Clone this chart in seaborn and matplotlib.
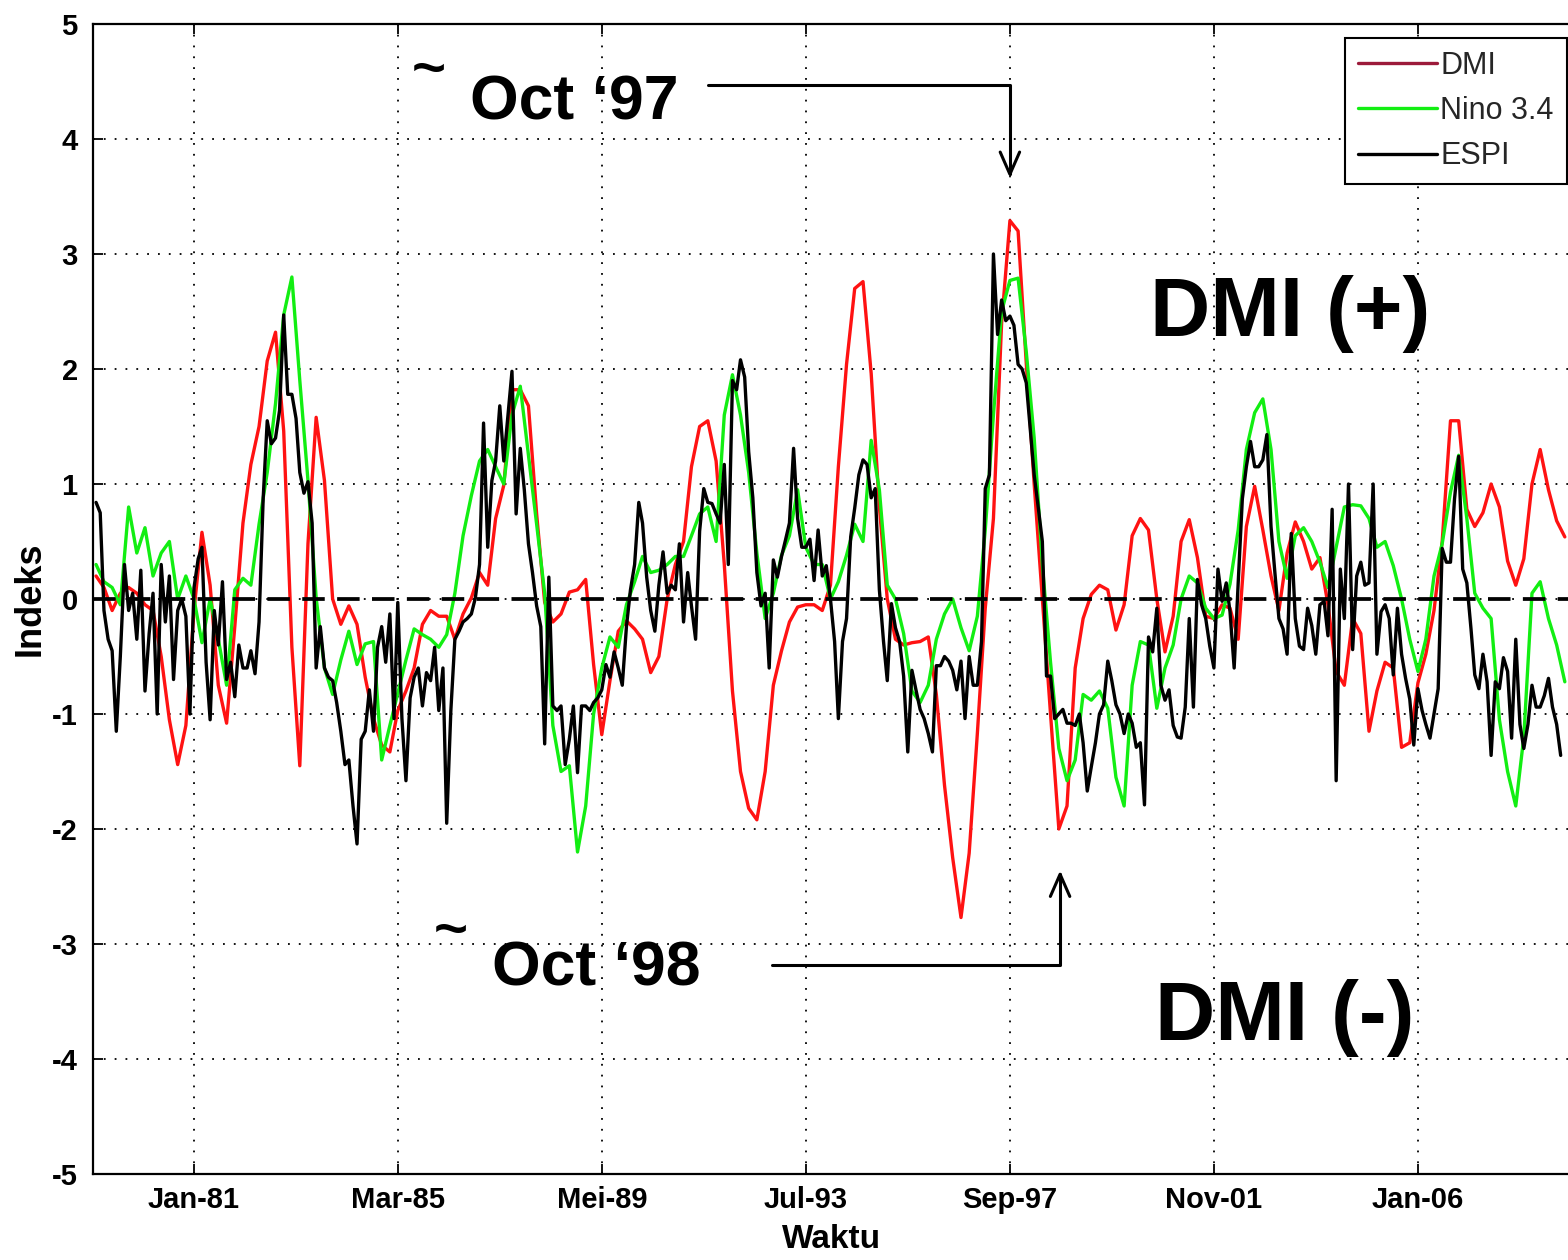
import matplotlib
matplotlib.use("Agg")
import matplotlib.pyplot as plt
import matplotlib.dates as mdates
from matplotlib.lines import Line2D
from matplotlib import font_manager
import pandas as pd
import seaborn as sns

W, H = 1568, 1260

# ---------------- data ----------------
# ESPI: monthly, Jan 1979 .. Dec 2008 (one row per year)
espi = [
    0.84, 0.75, -0.1, -0.35, -0.45, -1.15, -0.5, 0.3, -0.1, 0.05, -0.35, 0.25,
    -0.8, -0.3, 0.05, -1.0, 0.3, -0.2, 0.2, -0.7, -0.1, 0.0, -0.15, -1.0,
    0.1, 0.35, 0.45, -0.55, -1.05, -0.1, -0.4, 0.15, -0.7, -0.55, -0.85, -0.4,
    -0.6, -0.6, -0.45, -0.65, -0.2, 0.88, 1.55, 1.35, 1.4, 1.64, 2.47, 1.78,
    1.78, 1.57, 1.1, 0.92, 1.02, 0.66, -0.6, -0.24, -0.6, -0.68, -0.71, -0.9,
    -1.15, -1.44, -1.4, -1.8, -2.13, -1.22, -1.15, -0.79, -1.15, -0.42, -0.24, -0.55,
    -0.13, -1.04, -0.03, -1.04, -1.58, -0.86, -0.68, -0.6, -0.93, -0.64, -0.71, -0.42,
    -0.97, -0.6, -1.95, -0.97, -0.35, -0.28, -0.2, -0.17, -0.13, 0.01, 0.3, 1.53,
    0.45, 1.03, 1.2, 1.68, 1.2, 1.6, 1.98, 0.74, 1.31, 0.95, 0.48, 0.23,
    -0.06, -0.24, -1.26, 0.19, -0.93, -0.97, -0.93, -1.44, -1.22, -0.93, -1.51, -0.93,
    -0.93, -0.97, -0.9, -0.86, -0.79, -0.57, -0.68, -0.46, -0.6, -0.75, -0.24, 0.08,
    0.3, 0.84, 0.66, 0.19, -0.1, -0.28, 0.12, 0.41, 0.05, 0.12, 0.08, 0.48,
    -0.2, 0.23, -0.06, -0.35, 0.59, 0.96, 0.84, 0.83, 0.74, 0.66, 1.17, 0.3,
    1.9, 1.82, 2.08, 1.93, 1.28, 0.88, 0.23, -0.06, 0.05, -0.6, 0.34, 0.19,
    0.37, 0.52, 0.66, 1.31, 0.7, 0.45, 0.45, 0.52, 0.16, 0.6, 0.2, 0.29,
    0.0, -0.37, -1.04, -0.37, -0.17, 0.54, 0.79, 1.08, 1.21, 1.17, 0.88, 0.96,
    0.08, -0.37, -0.71, -0.04, -0.25, -0.37, -0.67, -1.33, -0.62, -0.79, -0.96, -1.04,
    -1.17, -1.33, -0.58, -0.58, -0.5, -0.54, -0.62, -0.79, -0.54, -1.04, -0.5, -0.75,
    -0.75, -0.37, 0.96, 1.08, 3.0, 2.3, 2.6, 2.42, 2.46, 2.38, 2.04, 2.0,
    1.88, 1.46, 1.08, 0.79, 0.5, -0.67, -0.67, -1.04, -1.0, -0.96, -1.08, -1.08,
    -1.1, -1.0, -1.25, -1.67, -1.46, -1.25, -1.0, -0.92, -0.54, -0.71, -0.92, -1.0,
    -1.17, -1.0, -1.08, -1.29, -1.25, -1.79, -0.33, -0.46, -0.08, -0.75, -0.88, -0.79,
    -1.1, -1.2, -1.21, -0.94, -0.17, -0.94, 0.17, -0.05, -0.17, -0.41, -0.6, 0.26,
    -0.02, 0.14, -0.11, -0.6, 0.14, 0.87, 1.15, 1.37, 1.15, 1.15, 1.21, 1.43,
    0.63, 0.2, -0.17, -0.26, -0.48, 0.57, -0.17, -0.41, -0.44, -0.08, -0.23, -0.48,
    -0.05, -0.02, -0.32, 0.78, -1.58, 0.26, -0.17, 1.0, -0.44, 0.2, 0.32, 0.12,
    0.14, 1.0, -0.48, -0.11, -0.05, -0.17, -0.66, -0.08, -0.48, -0.69, -0.87, -1.27,
    -0.78, -0.97, -1.09, -1.21, -1.0, -0.78, 0.44, 0.32, 0.32, 0.87, 1.24, 0.26,
    0.14, -0.26, -0.66, -0.78, -0.48, -0.72, -1.36, -0.72, -0.78, -0.51, -0.63, -1.21,
    -0.35, -1.09, -1.3, -1.09, -0.75, -0.94, -0.94, -0.84, -0.69, -0.94, -1.09, -1.36,
]

# DMI: every second month, Jan 1979 .. Jan 2009 (one row per two years)
dmi = [
    0.2, 0.1, -0.1, 0.05, 0.1, 0.05, -0.05, -0.1, -0.5, -1.05, -1.44, -1.1,
    -0.1, 0.58, 0.12, -0.75, -1.08, -0.24, 0.66, 1.17, 1.5, 2.07, 2.32, 1.46,
    -0.42, -1.45, 0.48, 1.58, 1.03, 0.0, -0.22, -0.06, -0.22, -0.68, -1.04, -1.27,
    -1.33, -0.97, -0.8, -0.6, -0.22, -0.1, -0.15, -0.15, -0.35, -0.13, 0.01, 0.23,
    0.12, 0.7, 0.99, 1.82, 1.82, 1.68, 0.74, -0.03, -0.2, -0.13, 0.06, 0.08,
    0.17, -0.57, -1.18, -0.71, -0.28, -0.19, -0.26, -0.35, -0.64, -0.5, 0.0, 0.3,
    0.5, 1.15, 1.5, 1.55, 1.2, 0.3, -0.8, -1.5, -1.82, -1.92, -1.5, -0.75,
    -0.45, -0.2, -0.07, -0.05, -0.05, -0.1, 0.12, 1.15, 2.04, 2.7, 2.76, 1.96,
    0.8, 0.0, -0.35, -0.4, -0.38, -0.37, -0.33, -0.83, -1.62, -2.25, -2.77, -2.21,
    -1.17, -0.08, 0.7, 2.4, 3.29, 3.2, 2.05, 1.0, 0.0, -1.0, -2.0, -1.8,
    -0.6, -0.17, 0.04, 0.12, 0.08, -0.27, -0.05, 0.55, 0.7, 0.6, 0.0, -0.46,
    -0.15, 0.5, 0.69, 0.36, -0.15, -0.17, -0.05, -0.08, -0.35, 0.63, 0.98, 0.6,
    0.2, -0.1, 0.4, 0.67, 0.5, 0.26, 0.36, -0.05, -0.63, -0.75, -0.17, -0.3,
    -1.15, -0.8, -0.55, -0.6, -1.29, -1.25, -0.73, -0.48, -0.1, 0.5, 1.55, 1.55,
    0.78, 0.63, 0.75, 1.0, 0.8, 0.33, 0.12, 0.35, 1.0, 1.3, 0.95, 0.68,
    0.54,
]

# Nino 3.4: every second month, Jan 1979 .. Jan 2009
nino34 = [
    0.3, 0.15, 0.1, -0.05, 0.8, 0.4, 0.62, 0.2, 0.4, 0.5, 0.0, 0.2,
    0.0, -0.38, 0.0, -0.35, -0.75, 0.08, 0.18, 0.12, 0.65, 1.1, 1.7, 2.47,
    2.8, 1.9, 1.03, 0.01, -0.6, -0.83, -0.53, -0.28, -0.57, -0.39, -0.37, -1.4,
    -1.1, -0.82, -0.53, -0.26, -0.31, -0.35, -0.42, -0.31, 0.05, 0.55, 0.9, 1.2,
    1.3, 1.15, 1.0, 1.6, 1.85, 1.25, 0.65, 0.05, -1.1, -1.5, -1.45, -2.2,
    -1.8, -1.0, -0.6, -0.33, -0.42, -0.05, 0.15, 0.37, 0.23, 0.25, 0.3, 0.37,
    0.37, 0.55, 0.74, 0.8, 0.5, 1.6, 1.95, 1.6, 1.1, 0.4, -0.17, 0.05,
    0.38, 0.55, 0.95, 0.45, 0.3, 0.3, 0.0, 0.15, 0.38, 0.65, 0.5, 1.38,
    0.95, 0.12, 0.0, -0.3, -0.8, -0.9, -0.75, -0.35, -0.13, 0.0, -0.25, -0.45,
    -0.15, 0.6, 1.6, 2.5, 2.77, 2.79, 2.15, 1.4, 0.3, -0.55, -1.3, -1.58,
    -1.4, -0.83, -0.88, -0.8, -0.95, -1.55, -1.8, -0.75, -0.37, -0.4, -0.95, -0.6,
    -0.4, 0.0, 0.2, 0.14, -0.08, -0.17, -0.14, 0.13, 0.6, 1.3, 1.62, 1.74,
    1.3, 0.5, 0.18, 0.55, 0.62, 0.5, 0.32, 0.1, 0.45, 0.8, 0.82, 0.81,
    0.7, 0.45, 0.5, 0.29, 0.0, -0.35, -0.63, -0.35, 0.2, 0.48, 0.93, 1.25,
    0.7, 0.05, -0.08, -0.17, -1.05, -1.5, -1.8, -1.2, 0.05, 0.15, -0.17, -0.4,
    -0.72,
]

series_names = ["DMI", "Nino 3.4", "ESPI"]
line_colors = ["#ff1212", "#12ee12", "#000000"]
legend_colors = ["#9c1a3a", "#12ee12", "#000000"]
tick_dates = ["1981-01-01", "1985-03-01", "1989-05-01", "1993-07-01",
              "1997-09-01", "2001-11-01", "2006-01-01"]
tick_labels = ["Jan-81", "Mar-85", "Mei-89", "Jul-93", "Sep-97", "Nov-01", "Jan-06"]
y_ticks = [-5, -4, -3, -2, -1, 0, 1, 2, 3, 4, 5]

# ---------------- table for seaborn ----------------
espi_dates = pd.date_range("1979-01-01", periods=len(espi), freq="MS")
idx_dates = pd.date_range("1979-01-01", periods=len(dmi), freq="2MS")
df = pd.concat([
    pd.DataFrame({"Waktu": idx_dates, "Indeks": dmi, "Seri": "DMI"}),
    pd.DataFrame({"Waktu": idx_dates, "Indeks": nino34, "Seri": "Nino 3.4"}),
    pd.DataFrame({"Waktu": espi_dates, "Indeks": espi, "Seri": "ESPI"}),
], ignore_index=True)

# ---------------- style / fonts ----------------
sns.set_theme(style="white")
_names = {f.name for f in font_manager.fontManager.ttflist}
NARROW = "Liberation Sans Narrow" if "Liberation Sans Narrow" in _names else "Liberation Sans"
plt.rcParams["font.family"] = [NARROW, "Liberation Sans", "DejaVu Sans"]
plt.rcParams["axes.unicode_minus"] = False

fig = plt.figure(figsize=(W / 100, H / 100), dpi=100)
fig.patch.set_facecolor("white")
ax = fig.add_axes([93 / W, (H - 1174) / H, 1 - 93 / W, (1174 - 24) / H])

sns.lineplot(data=df, x="Waktu", y="Indeks", hue="Seri", hue_order=series_names,
             palette=dict(zip(series_names, line_colors)), linewidth=2.4,
             estimator=None, legend=False, ax=ax)

t0 = mdates.date2num(pd.Timestamp("1979-01-01"))


def month(m):
    return t0 + m * 30.437


ax.set_xlim(month(-0.75), month(360.8))
ax.set_ylim(-5, 5)

# grid and zero line
ax.grid(True, color="black", linestyle=(0, (1, 5)), linewidth=1.3)
ax.set_axisbelow(True)
ax.axhline(0, color="black", linewidth=2.7, linestyle=(0, (6.0, 3.3)), zorder=5)

# ticks
ax.set_xticks(pd.to_datetime(tick_dates))
ax.set_xticklabels(tick_labels)
ax.set_yticks(y_ticks)
ax.set_yticklabels([str(v) for v in y_ticks])
ax.tick_params(axis="both", direction="in", length=7, width=1.3, colors="black",
               labelsize=21, top=True, bottom=True, left=True, right=False)
ax.tick_params(axis="x", pad=9)
ax.tick_params(axis="y", pad=11)
for lbl in ax.get_xticklabels() + ax.get_yticklabels():
    lbl.set_fontweight("bold")

for name, sp in ax.spines.items():
    sp.set_color("black")
    sp.set_linewidth(1.6)
ax.spines["right"].set_visible(False)

# axis labels
ax.set_xlabel("Waktu", fontsize=24, fontweight="bold", color="black")
ax.xaxis.set_label_coords((832 - 93) / (W - 93), -(1224 - 1174) / 1150)
ax.set_ylabel("Indeks", fontsize=26, fontweight="bold", color="black",
              family=["Liberation Sans", "DejaVu Sans"])
ax.yaxis.label.set_va("center")
ax.yaxis.set_label_coords((30 - 93) / (W - 93), 0.5)

# legend
handles = [Line2D([0], [0], color=c, lw=2.4) for c in legend_colors]
leg = ax.legend(handles, series_names, loc="upper left",
                bbox_to_anchor=(1345 / W, 1 - 38 / H), bbox_transform=fig.transFigure,
                frameon=True, fancybox=False, shadow=False, fontsize=22,
                handlelength=2.6, handletextpad=0.1, labelspacing=0.5,
                borderpad=0.42, borderaxespad=0)
leg.get_frame().set_edgecolor("black")
leg.get_frame().set_linewidth(1.5)
leg.get_frame().set_facecolor("white")
leg.get_frame().set_alpha(1)

# annotations
big = dict(fontweight="bold", color="black")
fig.text(470 / W, 1 - 120 / H, "Oct \u201897", fontsize=45, ha="left", va="baseline", **big)
fig.text(429 / W, 1 - 72 / H, "~", fontsize=42, ha="center", va="center", **big)
fig.text(492 / W, 1 - 985 / H, "Oct \u201898", fontsize=45, ha="left", va="baseline", **big)
fig.text(451 / W, 1 - 933 / H, "~", fontsize=42, ha="center", va="center", **big)
fig.text(1150 / W, 1 - 336 / H, "DMI (+)", fontsize=60, ha="left", va="baseline",
         family=["Liberation Sans", "DejaVu Sans"], **big)
fig.text(1155 / W, 1 - 1040 / H, "DMI (-)", fontsize=60, ha="left", va="baseline",
         family=["Liberation Sans", "DejaVu Sans"], **big)

arrow = dict(arrowstyle="->,head_length=0.8,head_width=0.35", color="black", lw=2.2,
             connectionstyle="angle,angleA=0,angleB=90,rad=0",
             shrinkA=0, shrinkB=0, mutation_scale=20)
ax.annotate("", xy=(month(224), 3.66), xytext=(month(150), 4.47), xycoords="data",
            arrowprops=arrow, annotation_clip=False)
ax.annotate("", xy=(month(236.3), -2.36), xytext=(month(165.6), -3.18), xycoords="data",
            arrowprops=arrow, annotation_clip=False)

fig.savefig("out.png", dpi=100, facecolor="white")
